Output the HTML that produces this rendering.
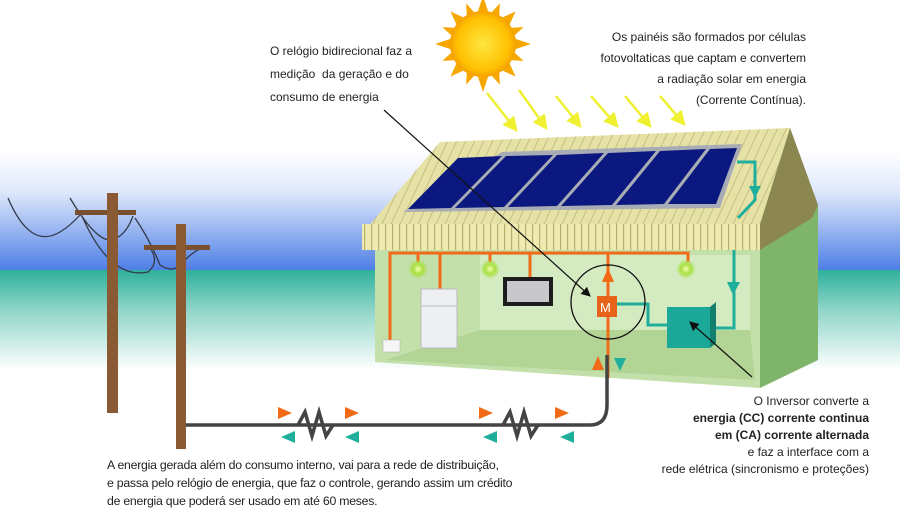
<!DOCTYPE html>
<html><head><meta charset="utf-8"><style>
body{margin:0;width:900px;height:518px;overflow:hidden;background:#fff;font-family:"Liberation Sans",sans-serif;}
svg{position:absolute;left:0;top:0}
.t{position:absolute;font-size:12px;color:#222;white-space:nowrap;line-height:21px}
</style></head><body>
<svg width="900" height="518" viewBox="0 0 900 518">
<defs>
<linearGradient id="sky" x1="0" y1="0" x2="0" y2="1">
<stop offset="0" stop-color="#fff"/><stop offset="0.35" stop-color="#dfe8fb"/><stop offset="1" stop-color="#4e7fe6"/></linearGradient>
<linearGradient id="sea" x1="0" y1="0" x2="0" y2="1">
<stop offset="0" stop-color="#2fb09c"/><stop offset="0.4" stop-color="#8fd5c8"/><stop offset="1" stop-color="#fff"/></linearGradient>
<radialGradient id="sun"><stop offset="0" stop-color="#ffe640"/><stop offset="0.8" stop-color="#ffc000"/><stop offset="1" stop-color="#f4a000"/></radialGradient>
<radialGradient id="lamp"><stop offset="0" stop-color="#f4ffb0"/><stop offset="0.5" stop-color="#a8e040"/><stop offset="1" stop-color="#a8e040" stop-opacity="0"/></radialGradient>
<pattern id="str" width="7" height="30" patternUnits="userSpaceOnUse"><rect width="7" height="30" fill="#eeeab0"/><rect width="1.2" height="30" fill="#b8b070"/></pattern>
<pattern id="str2" width="9" height="10" patternUnits="userSpaceOnUse" patternTransform="skewX(-25)"><rect width="9" height="10" fill="#e6e2a6"/><rect width="1" height="10" fill="#c2bb80"/></pattern>
<marker id="ah" markerWidth="8" markerHeight="8" refX="7" refY="4" orient="auto"><path d="M0,0 L8,4 L0,8z" fill="#111"/></marker>
<marker id="ya" markerWidth="6" markerHeight="6" refX="5" refY="3" orient="auto"><path d="M0,0 L6,3 L0,6z" fill="#eef030"/></marker>
</defs>
<rect x="0" y="150" width="900" height="120" fill="url(#sky)"/>
<rect x="0" y="270" width="900" height="100" fill="url(#sea)"/>
<g transform="translate(483,44)">
<g fill="#f7a800">
<path d="M0,-48 L6,-30 L-6,-30z"/><path d="M0,48 L6,30 L-6,30z"/><path d="M-48,0 L-30,6 L-30,-6z"/><path d="M48,0 L30,6 L30,-6z"/>
<g transform="rotate(45)"><path d="M0,-46 L6,-30 L-6,-30z"/><path d="M0,46 L6,30 L-6,30z"/><path d="M-46,0 L-30,6 L-30,-6z"/><path d="M46,0 L30,6 L30,-6z"/></g>
<g transform="rotate(22.5)"><path d="M0,-44 L5,-30 L-5,-30z"/><path d="M0,44 L5,30 L-5,30z"/><path d="M-44,0 L-30,5 L-30,-5z"/><path d="M44,0 L30,5 L30,-5z"/></g>
<g transform="rotate(67.5)"><path d="M0,-44 L5,-30 L-5,-30z"/><path d="M0,44 L5,30 L-5,30z"/><path d="M-44,0 L-30,5 L-30,-5z"/><path d="M44,0 L30,5 L30,-5z"/></g>
</g>
<circle r="33" fill="url(#sun)"/></g>
<g stroke="#eef030" stroke-width="2.5" marker-end="url(#ya)">
<line x1="487" y1="93" x2="516" y2="130"/><line x1="519" y1="90" x2="546" y2="128"/><line x1="556" y1="96" x2="580" y2="126"/><line x1="591" y1="96" x2="617" y2="126"/><line x1="625" y1="96" x2="650" y2="126"/><line x1="660" y1="96" x2="684" y2="124"/>
</g>
<g fill="none" stroke="#333a48" stroke-width="1.3">
<path d="M8,198 Q30,250 60,232 Q70,226 80,215"/><path d="M70,198 Q95,240 110,240 Q125,238 133,216"/>
<path d="M82,216 Q110,280 148,272 Q160,262 150,248"/><path d="M135,218 Q150,240 160,265 Q175,275 185,260 Q195,250 203,248"/>
</g>
<rect x="75" y="210" width="61" height="5" fill="#7a5030"/>
<rect x="107" y="193" width="11" height="220" fill="#8a5a34"/>
<rect x="144" y="245" width="66" height="5" fill="#7a5030"/>
<rect x="176" y="224" width="10" height="225" fill="#8a5a34"/>
<polygon points="790,128 818,205 818,360 760,388 760,224" fill="#7fb56a"/>
<polygon points="790,128 818,205 812,218 760,250 760,224" fill="#8c8650"/>
<polygon points="375,248 760,248 760,388 375,362" fill="#c3e0ab"/>
<polygon points="480,255 750,255 750,330 480,330" fill="#d4ebc2"/>
<polygon points="385,360 480,330 750,330 755,380" fill="#b2d596"/>
<polygon points="440,142 790,128 760,224 367,228" fill="url(#str2)"/>
<rect x="362" y="224" width="398" height="26" fill="url(#str)"/>
<polygon points="403,212 720,208 742,144 502,152" fill="#a8acb4"/>
<g fill="#0b1880">
<polygon points="408,209 451,208 502,156 458,158"/>
<polygon points="455,208 504,207 553,155 506,156"/>
<polygon points="508,207 557,206 604,153 557,155"/>
<polygon points="561,206 612,205 656,151 608,153"/>
<polygon points="616,205 664,204 706,149 660,151"/>
<polygon points="668,204 716,204 737,148 710,149"/>
</g>
<g stroke="#f06a18" stroke-width="3" fill="none">
<path d="M390,350 V253 H688 V262"/><path d="M440,253 V292"/><path d="M530,253 V277"/><path d="M418,253 V262"/><path d="M490,253 V262"/><path d="M608,253 V378"/>
</g>
<circle cx="418" cy="269" r="10" fill="url(#lamp)"/><circle cx="490" cy="269" r="10" fill="url(#lamp)"/><circle cx="686" cy="269" r="10" fill="url(#lamp)"/>
<rect x="383" y="340" width="17" height="12" fill="#f6f6f6" stroke="#aaa" stroke-width="0.5"/>
<rect x="421" y="289" width="36" height="59" fill="#eeeff2" stroke="#bbb"/><line x1="421" y1="306" x2="457" y2="306" stroke="#bbb"/>
<rect x="503" y="277" width="50" height="29" fill="#1c1c1c"/><rect x="507" y="281" width="42" height="21" fill="#c8c8cc"/>
<path d="M602,282 L608,268 L614,282z" fill="#f06a18"/>
<g stroke="#1fae9c" stroke-width="3" fill="none">
<path d="M737,162 H755 V200 L738,218"/><path d="M734,250 V328 H710"/><path d="M617,304 H648 V325 H667"/>
</g>
<path d="M749,186 L761,186 L755,198z M727,282 L740,282 L733,295z" fill="#1fae9c"/>
<rect x="667" y="307" width="43" height="41" fill="#1ca898"/><polygon points="710,307 716,302 716,343 710,348" fill="#13806f"/>
<rect x="597" y="296" width="20" height="21" fill="#e8631a"/><text x="600" y="312" font-size="13" fill="#fff" font-family="Liberation Sans">M</text>
<circle cx="608" cy="302" r="37" fill="none" stroke="#111" stroke-width="1.3"/>
<path d="M186,425 H590 Q607,425 607,405 V355" fill="none" stroke="#444" stroke-width="3.5"/>
<g fill="none" stroke="#444" stroke-width="3.5" stroke-linejoin="miter">
<path d="M298,425 L305,412 L312,436 L319,412 L326,436 L333,425" /><path d="M503,425 L510,412 L517,436 L524,412 L531,436 L538,425"/>
</g>
<g fill="#f06a18"><path d="M278,407 L292,413 L278,419z"/><path d="M345,407 L359,413 L345,419z"/><path d="M479,407 L493,413 L479,419z"/><path d="M555,407 L569,413 L555,419z"/><path d="M592,370 L598,356 L604,370z"/></g>
<g fill="#1fae9c"><path d="M281,437 L295,431 L295,443z"/><path d="M345,437 L359,431 L359,443z"/><path d="M483,437 L497,431 L497,443z"/><path d="M560,437 L574,431 L574,443z"/><path d="M614,358 L626,358 L620,371z"/></g>
<line x1="384" y1="110" x2="590" y2="296" stroke="#111" stroke-width="1.2" marker-end="url(#ah)"/>
<line x1="752" y1="377" x2="690" y2="322" stroke="#111" stroke-width="1.2" marker-end="url(#ah)"/>
</svg>
<div class="t" style="left:270px;top:40px;line-height:23px">O relógio bidirecional faz a<br>medição &nbsp;da geração e do<br>consumo de energia</div>
<div class="t" style="right:94px;top:27px;text-align:right">Os painéis são formados por células<br>fotovoltaticas que captam e convertem<br>a radiação solar em energia<br>(Corrente Contínua).</div>
<div class="t" style="right:31px;top:393px;text-align:right;line-height:17px">O Inversor converte a<br><b>energia (CC) corrente continua</b><br><b>em (CA) corrente alternada</b><br>e faz a interface com a<br>rede elétrica (sincronismo e proteções)</div>
<div class="t" style="left:107px;top:456px;line-height:18px;font-size:12.3px;letter-spacing:-0.25px">A energia gerada além do consumo interno, vai para a rede de distribuição,<br>e passa pelo relógio de energia, que faz o controle, gerando assim um crédito<br>de energia que poderá ser usado em até 60 meses.</div>
</body></html>
